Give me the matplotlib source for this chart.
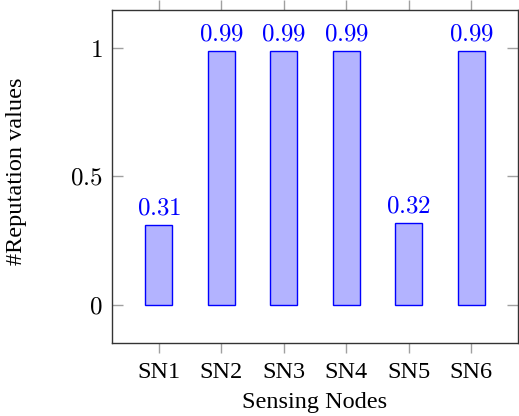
import matplotlib
matplotlib.use("Agg")
import matplotlib.pyplot as plt

categories = ["SN1", "SN2", "SN3", "SN4", "SN5", "SN6"]
values = [0.31, 0.99, 0.99, 0.99, 0.32, 0.99]
value_labels = ["0.31", "0.99", "0.99", "0.99", "0.32", "0.99"]
yticks = [0, 0.5, 1]
ytick_labels = ["0", "0.5", "1"]

plt.rcParams['mathtext.fontset'] = 'cm'
plt.rcParams['font.family'] = ['Liberation Serif', 'DejaVu Serif']

fig = plt.figure(figsize=(5.19, 4.16), dpi=100)
ax = fig.add_axes([112/519, 1 - 343/416, (518-112)/519, (343-10)/416])

x = list(range(1, len(categories) + 1))
ax.bar(x, values, width=0.43, color='#b3b3ff', edgecolor='blue', linewidth=1.0, zorder=2)
for xi, v, lab in zip(x, values, value_labels):
    ax.annotate(f"${lab}$", (xi, v), xytext=(0, 4), textcoords='offset points',
                ha='center', va='bottom', color='blue', fontsize=18)

ax.set_xlim(0.25, 6.75)
ax.set_ylim(-0.148, 1.148)
ax.set_xticks(x)
ax.set_xticklabels(categories, fontsize=17.5)
ax.set_yticks(yticks)
ax.set_yticklabels([f"${t}$" for t in ytick_labels], fontsize=18)

ax.tick_params(axis='x', direction='out', length=7.5, width=1.0, color='#a0a0a0',
               top=True, bottom=True, pad=6)
ax.tick_params(axis='y', direction='in', length=8, width=1.0, color='#a0a0a0',
               left=True, right=True, pad=7)
for s in ax.spines.values():
    s.set_color('#333333')
    s.set_linewidth(1.0)

ax.set_xlabel("Sensing Nodes", fontsize=17.5, labelpad=7)
ax.set_ylabel("#Reputation values", fontsize=17.5)
ax.yaxis.set_label_coords((27 - 112) / 406, (343 - 171) / 333)

fig.savefig("out.png", dpi=100)
